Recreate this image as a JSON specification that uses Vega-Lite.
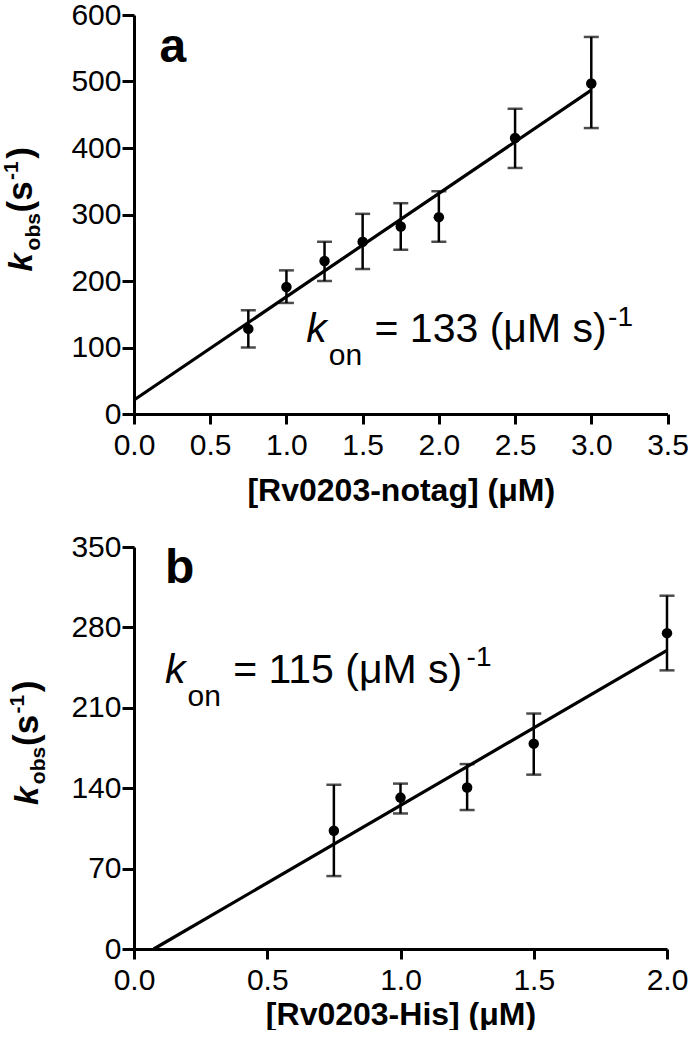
{
  "$schema": "https://vega.github.io/schema/vega-lite/v6.json",
  "padding": {"left": 1, "top": 0, "right": 0, "bottom": 0},
  "background": "white",
  "spacing": 26,
  "config": {
    "view": {"stroke": null},
    "font": "Liberation Sans",
    "axis": {
      "domainColor": "black", "domainWidth": 3, "tickColor": "black", "tickWidth": 3,
      "labelColor": "black", "labelFont": "Liberation Sans", "labelFontSize": 30, "labelFlush": false,
      "grid": false, "titleFont": "Liberation Sans", "titleFontSize": 32, "titleFontWeight": "bold", "titleColor": "black"
    },
    "axisX": {"tickSize": 10, "labelPadding": 6},
    "axisY": {"tickSize": 12, "labelPadding": 1},
    "text": {"color": "black", "align": "left", "baseline": "alphabetic", "font": "Liberation Sans"}
  },
  "datasets": {
    "ptsA": [
      {"x": 0.75, "y": 128, "lo": 100, "hi": 156},
      {"x": 1.0, "y": 191, "lo": 167, "hi": 216},
      {"x": 1.25, "y": 230, "lo": 200, "hi": 259},
      {"x": 1.5, "y": 259, "lo": 218, "hi": 301},
      {"x": 1.75, "y": 282, "lo": 247, "hi": 317},
      {"x": 2.0, "y": 296, "lo": 259, "hi": 335},
      {"x": 2.5, "y": 415, "lo": 370, "hi": 459},
      {"x": 3.0, "y": 497, "lo": 430, "hi": 567}
    ],
    "fitA": [{"x": 0, "y": 21}, {"x": 3.0, "y": 487}],
    "ptsB": [
      {"x": 0.75, "y": 103, "lo": 63.5, "hi": 143},
      {"x": 1.0, "y": 131.8, "lo": 118, "hi": 144},
      {"x": 1.25, "y": 140.6, "lo": 121, "hi": 161},
      {"x": 1.5, "y": 178.8, "lo": 151.8, "hi": 205},
      {"x": 2.0, "y": 275, "lo": 242.6, "hi": 307.6}
    ],
    "fitB": [{"x": 0.074, "y": 0}, {"x": 2.0, "y": 260}],
    "one": [{}]
  },
  "vconcat": [
    {
      "width": 533.5,
      "height": 399,
      "layer": [
        {
          "data": {"name": "fitA"},
          "mark": {"type": "line", "color": "black", "strokeWidth": 3.2},
          "encoding": {
            "x": {"field": "x", "type": "quantitative",
              "scale": {"domain": [0, 3.5], "nice": false, "zero": false},
              "axis": {"values": [0, 0.5, 1, 1.5, 2, 2.5, 3, 3.5], "format": ".1f", "title": "[Rv0203-notag] (μM)", "titlePadding": 15}},
            "y": {"field": "y", "type": "quantitative",
              "scale": {"domain": [0, 600], "nice": false},
              "axis": {"values": [0, 100, 200, 300, 400, 500, 600], "title": null}}
          }
        },
        {
          "data": {"name": "ptsA"},
          "mark": {"type": "rule", "color": "black", "strokeWidth": 2.5},
          "encoding": {"x": {"field": "x", "type": "quantitative"}, "y": {"field": "lo", "type": "quantitative"}, "y2": {"field": "hi"}}
        },
        {
          "data": {"name": "ptsA"},
          "mark": {"type": "tick", "orient": "horizontal", "color": "black", "size": 15, "thickness": 2.5},
          "encoding": {"x": {"field": "x", "type": "quantitative"}, "y": {"field": "lo", "type": "quantitative"}}
        },
        {
          "data": {"name": "ptsA"},
          "mark": {"type": "tick", "orient": "horizontal", "color": "black", "size": 15, "thickness": 2.5},
          "encoding": {"x": {"field": "x", "type": "quantitative"}, "y": {"field": "hi", "type": "quantitative"}}
        },
        {
          "data": {"name": "ptsA"},
          "mark": {"type": "point", "filled": true, "color": "black", "size": 110, "opacity": 1},
          "encoding": {"x": {"field": "x", "type": "quantitative"}, "y": {"field": "y", "type": "quantitative"}}
        },
        {
          "data": {"name": "one"},
          "mark": {"type": "text", "text": "a", "fontSize": 48, "fontWeight": "bold"},
          "encoding": {"x": {"datum": 0.167}, "y": {"datum": 529.8}}
        },
        {
          "data": {"name": "one"},
          "mark": {"type": "text", "text": "k", "fontSize": 41, "fontStyle": "italic"},
          "encoding": {"x": {"datum": 1.13}, "y": {"datum": 109}}
        },
        {
          "data": {"name": "one"},
          "mark": {"type": "text", "text": "on", "fontSize": 30},
          "encoding": {"x": {"datum": 1.278}, "y": {"datum": 74.4}}
        },
        {
          "data": {"name": "one"},
          "mark": {"type": "text", "text": "= 133 (μM s)", "fontSize": 41},
          "encoding": {"x": {"datum": 1.578}, "y": {"datum": 109}}
        },
        {
          "data": {"name": "one"},
          "mark": {"type": "text", "text": "-1", "fontSize": 28},
          "encoding": {"x": {"datum": 3.11}, "y": {"datum": 133}}
        },
        {
          "data": {"name": "one"},
          "mark": {"type": "text", "text": "k", "fontSize": 33, "fontWeight": "bold", "fontStyle": "italic", "angle": 270},
          "encoding": {"x": {"datum": -0.666}, "y": {"datum": 214.2}}
        },
        {
          "data": {"name": "one"},
          "mark": {"type": "text", "text": "obs", "fontSize": 21, "fontWeight": "bold", "angle": 270},
          "encoding": {"x": {"datum": -0.618}, "y": {"datum": 246}}
        },
        {
          "data": {"name": "one"},
          "mark": {"type": "text", "text": "(s", "fontSize": 35, "fontWeight": "bold", "angle": 270},
          "encoding": {"x": {"datum": -0.666}, "y": {"datum": 303}}
        },
        {
          "data": {"name": "one"},
          "mark": {"type": "text", "text": "-1", "fontSize": 21, "fontWeight": "bold", "angle": 270},
          "encoding": {"x": {"datum": -0.758}, "y": {"datum": 352}}
        },
        {
          "data": {"name": "one"},
          "mark": {"type": "text", "text": ")", "fontSize": 35, "fontWeight": "bold", "angle": 270},
          "encoding": {"x": {"datum": -0.666}, "y": {"datum": 384}}
        }
      ]
    },
    {
      "width": 533,
      "height": 402,
      "layer": [
        {
          "data": {"name": "fitB"},
          "mark": {"type": "line", "color": "black", "strokeWidth": 3.2},
          "encoding": {
            "x": {"field": "x", "type": "quantitative",
              "scale": {"domain": [0, 2], "nice": false, "zero": false},
              "axis": {"values": [0, 0.5, 1, 1.5, 2], "format": ".1f", "title": "[Rv0203-His] (μM)", "titlePadding": 4}},
            "y": {"field": "y", "type": "quantitative",
              "scale": {"domain": [0, 350], "nice": false},
              "axis": {"values": [0, 70, 140, 210, 280, 350], "title": null}}
          }
        },
        {
          "data": {"name": "ptsB"},
          "mark": {"type": "rule", "color": "black", "strokeWidth": 2.5},
          "encoding": {"x": {"field": "x", "type": "quantitative"}, "y": {"field": "lo", "type": "quantitative"}, "y2": {"field": "hi"}}
        },
        {
          "data": {"name": "ptsB"},
          "mark": {"type": "tick", "orient": "horizontal", "color": "black", "size": 15, "thickness": 2.5},
          "encoding": {"x": {"field": "x", "type": "quantitative"}, "y": {"field": "lo", "type": "quantitative"}}
        },
        {
          "data": {"name": "ptsB"},
          "mark": {"type": "tick", "orient": "horizontal", "color": "black", "size": 15, "thickness": 2.5},
          "encoding": {"x": {"field": "x", "type": "quantitative"}, "y": {"field": "hi", "type": "quantitative"}}
        },
        {
          "data": {"name": "ptsB"},
          "mark": {"type": "point", "filled": true, "color": "black", "size": 110, "opacity": 1},
          "encoding": {"x": {"field": "x", "type": "quantitative"}, "y": {"field": "y", "type": "quantitative"}}
        },
        {
          "data": {"name": "one"},
          "mark": {"type": "text", "text": "b", "fontSize": 48, "fontWeight": "bold"},
          "encoding": {"x": {"datum": 0.116}, "y": {"datum": 318.6}}
        },
        {
          "data": {"name": "one"},
          "mark": {"type": "text", "text": "k", "fontSize": 41, "fontStyle": "italic"},
          "encoding": {"x": {"datum": 0.116}, "y": {"datum": 231.6}}
        },
        {
          "data": {"name": "one"},
          "mark": {"type": "text", "text": "on", "fontSize": 30},
          "encoding": {"x": {"datum": 0.201}, "y": {"datum": 211.6}}
        },
        {
          "data": {"name": "one"},
          "mark": {"type": "text", "text": "= 115 (μM s)", "fontSize": 41},
          "encoding": {"x": {"datum": 0.372}, "y": {"datum": 231.6}}
        },
        {
          "data": {"name": "one"},
          "mark": {"type": "text", "text": "-1", "fontSize": 28},
          "encoding": {"x": {"datum": 1.248}, "y": {"datum": 246}}
        },
        {
          "data": {"name": "one"},
          "mark": {"type": "text", "text": "k", "fontSize": 33, "fontWeight": "bold", "fontStyle": "italic", "angle": 270},
          "encoding": {"x": {"datum": -0.36}, "y": {"datum": 125.4}}
        },
        {
          "data": {"name": "one"},
          "mark": {"type": "text", "text": "obs", "fontSize": 21, "fontWeight": "bold", "angle": 270},
          "encoding": {"x": {"datum": -0.334}, "y": {"datum": 143.5}}
        },
        {
          "data": {"name": "one"},
          "mark": {"type": "text", "text": "(s", "fontSize": 35, "fontWeight": "bold", "angle": 270},
          "encoding": {"x": {"datum": -0.36}, "y": {"datum": 176.8}}
        },
        {
          "data": {"name": "one"},
          "mark": {"type": "text", "text": "-1", "fontSize": 21, "fontWeight": "bold", "angle": 270},
          "encoding": {"x": {"datum": -0.4125}, "y": {"datum": 205}}
        },
        {
          "data": {"name": "one"},
          "mark": {"type": "text", "text": ")", "fontSize": 35, "fontWeight": "bold", "angle": 270},
          "encoding": {"x": {"datum": -0.36}, "y": {"datum": 223.5}}
        }
      ]
    }
  ]
}
